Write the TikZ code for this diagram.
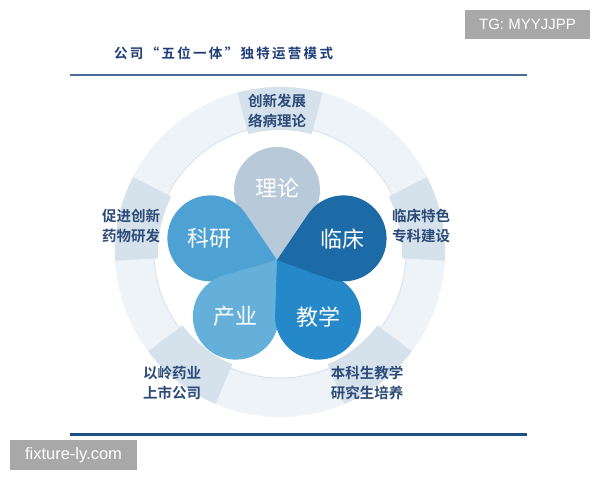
\documentclass[tikz,border=0pt]{standalone}
\usepackage{fontspec}
\newfontfamily\cjk{Noto Sans CJK SC}[BoldFont={Noto Sans CJK SC Bold}]
\newfontfamily\wmfont{Liberation Sans}
\usetikzlibrary{calc}
\definecolor{titleblue}{HTML}{1F3D78}
\definecolor{topline}{HTML}{4A6D9A}
\definecolor{botline}{HTML}{1D4F82}
\definecolor{ringfill}{HTML}{EEF3F8}
\definecolor{ringline}{HTML}{DCE5EE}
\definecolor{panelfill}{HTML}{D5E2EC}
\definecolor{labelblue}{HTML}{2D4B78}
\definecolor{cLilun}{HTML}{B8CAD9}
\definecolor{cKeyan}{HTML}{4DA2D3}
\definecolor{cLinchuang}{HTML}{1C6AA6}
\definecolor{cChanye}{HTML}{64B0DB}
\definecolor{cJiaoxue}{HTML}{2588C8}
\definecolor{wmgray}{HTML}{A8A8A8}
\tikzset{
  petaltext/.style={text=white, font=\cjk\fontsize{22}{22}\selectfont, inner sep=0pt},
  outerlabel/.style={text=labelblue, align=center, font=\cjk\bfseries\fontsize{14.5}{19.5}\selectfont, inner sep=0pt},
  wmbox/.style={fill=wmgray, text=white, inner sep=0pt, font=\wmfont\fontsize{15}{15}\selectfont},
}
\newcommand\drawpetal[2]{%
  \fill[#2] (fc) -- ($(fc)+(#1:70)+(#1+232.1:43)$) arc[start angle=#1+232.1, delta angle=255.8, radius=43] -- cycle;}
\begin{document}
\begin{tikzpicture}[x=1pt,y=-1pt]
\useasboundingbox (0,0) rectangle (600,480);
\fill[white] (0,0) rectangle (600,480);
% title and rules
\node[anchor=west, text=titleblue, inner sep=0pt, font=\cjk\bfseries\fontsize{13.5}{13.5}\selectfont\addfontfeature{LetterSpace=17}] (title) at (114,53) {公司“五位一体”独特运营模式};
\draw[topline, line width=2.5pt] (70,75) -- (527,75);
\draw[botline, line width=3pt] (70,434) -- (527,434);
% ring
\coordinate (rc) at (280,252);
\fill[ringfill, even odd rule] (rc) circle[radius=165] (rc) circle[radius=126];
\draw[ringline, line width=1pt] (rc) circle[radius=126];
\foreach \a in {90,12,168,232,308}{
  \fill[panelfill] ($(rc)+(-\a-15:165)$) arc[start angle=-\a-15, end angle=-\a+15, radius=165]
    -- ($(rc)+(-\a+15:122)$) arc[start angle=-\a+15, end angle=-\a-15, radius=122] -- cycle;
}
% petals
\coordinate (fc) at (277,260);
\drawpetal{-90}{cLilun}
\drawpetal{-162}{cKeyan}
\drawpetal{126}{cChanye}
\drawpetal{54}{cJiaoxue}
\drawpetal{-18}{cLinchuang}
\node[petaltext] (lilun) at ($(fc)+(-90:72)$) {理论};
\node[petaltext] (linchuang) at ($(fc)+(-18:69)$) {临床};
\node[petaltext] (keyan) at ($(fc)+(-162:71)$) {科研};
\node[petaltext] (chanye) at ($(fc)+(126:70)$) {产业};
\node[petaltext] (jiaoxue) at ($(fc)+(54:70)$) {教学};
% outer labels
\node[outerlabel] (top) at (277,111) {创新发展\\络病理论};
\node[outerlabel] (left) at (131,226) {促进创新\\药物研发};
\node[outerlabel] (right) at (421,226) {临床特色\\专科建设};
\node[outerlabel] (ll) at (172,383) {以岭药业\\上市公司};
\node[outerlabel] (lr) at (367,383) {本科生教学\\研究生培养};
% watermarks
\node[wmbox, minimum width=125pt, minimum height=29pt] (tg) at (527.5,24.5) {TG: MYYJJPP};
\node[wmbox, minimum width=127pt, minimum height=30pt, font=\wmfont\fontsize{16.5}{16.5}\selectfont] (fx) at (73.5,455) {fixture-ly.com};
\end{tikzpicture}
\end{document}
